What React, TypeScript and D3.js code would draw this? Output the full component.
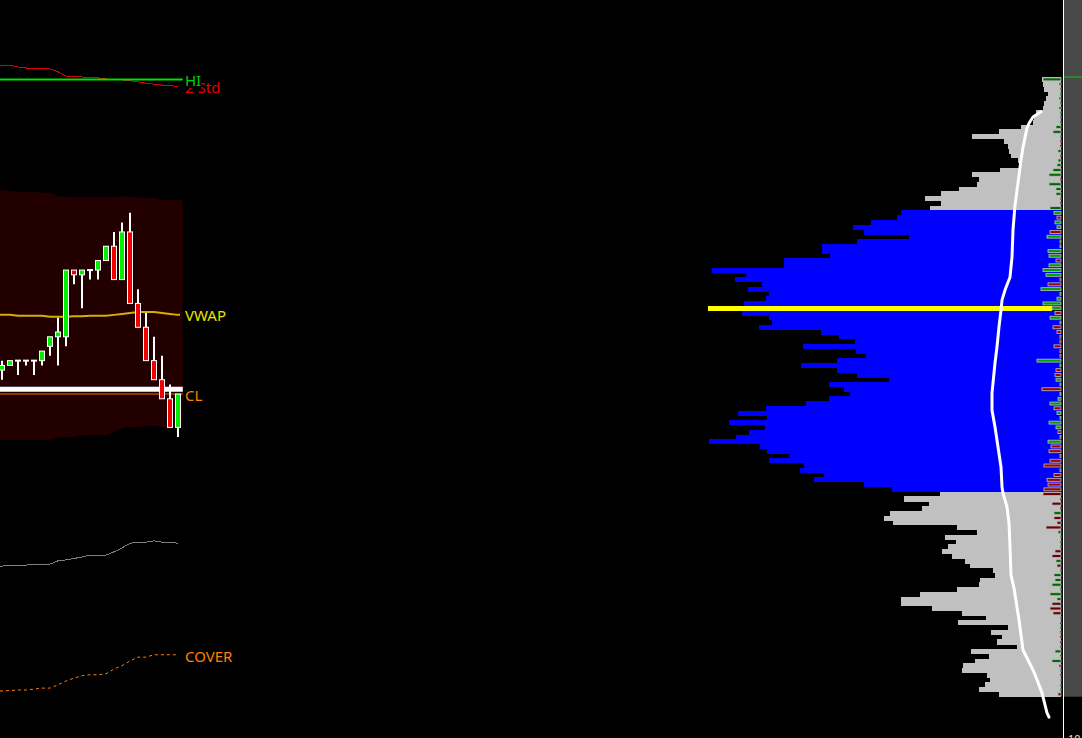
import * as d3 from "d3";

// ---- profile: one row per cent, top row first ----
const topPrice = 11.38;
const tickSize = 0.01;
const vaHigh = 11.1;
const vaLow = 10.52;
const pocPrice = 10.9;

const profileVolume = [
  190, 180, 170, 130, 150, 170, 180, 250, 270, 280, 400, 620, 890, 570, 530, 520, 500, 430, 420, 610,
  890, 820, 840, 1020, 1200, 1360, 1200, 1310,
  1600, 1640, 1900, 2080, 1970, 1520, 2040, 2390, 2390, 2310, 2770, 2770, 3490, 3150, 3260, 2990,
  3130, 2920, 2950, 3170, 3530, 3190, 2920, 2890, 3020, 2400, 2220, 2060, 2580, 2050, 1950, 2240,
  2600, 2240, 2040, 1720, 2320, 2170, 2110, 2320, 2550, 2950, 3230, 2940, 3320, 2960, 3120, 3250,
  3520, 3010, 2940, 2720, 2920, 2570, 2610, 2370, 2470, 1970, 1690,
  1210, 1570, 1320, 1390, 1710, 1770, 1680, 1040, 840, 1160, 1050, 1130, 1190, 1090, 960, 910, 680,
  660, 810, 820, 1040, 1410, 1600, 1600, 1290, 990, 750, 1030, 530, 700, 590, 640, 440, 900, 720,
  860, 980, 990, 740, 710, 760, 820, 620,
];

const profileDelta = [
  180, 20, -10, 10, 20, 10, 20, 10, 10, 10, 50, 80, 10, -10, -10, 30, -10, 30, 40, 80, 120, -10,
  120, 50, 50, 10, -10, 110,
  70, -40, 60, 40, -110, 140, 10, 10, 130, 120, -50, 120, 180, 150, -10, -130, 200, 10, 40, 180,
  90, -60, 110, 10, -80, -40, -10, -10, -70, -10, -10, 240, 10, -50, -60, 50, 10, -190, 10, 30,
  110, -70, 40, 10, 120, 50, -30, 10, 130, -100, -120, -10, -110, -170, 10, -70, -140, -130, -170,
  -180, -10, -90, -10, 70, -70, -40, -150, 30, 10, 10, 10, -60, -90, 50, -40, 10, 70, 60, 90, 10,
  110, 40, -90, -110, -80, 10, -10, 10, -10, -10, -10, 10, 60, 10, 90, -20, 10, -10, 10, 10, 10, -30,
];

// white line drawn over the profile
const curvePrice = [
  11.312, 11.301, 11.288, 11.278, 11.238, 11.211, 11.163, 11.116, 11.064, 11.007, 10.965, 10.938,
  10.917, 10.896, 10.861, 10.819, 10.785, 10.743, 10.722, 10.686, 10.651, 10.609, 10.567, 10.525,
  10.512, 10.483, 10.449, 10.399, 10.34, 10.313, 10.246, 10.183, 10.141, 10.126, 10.093, 10.051, 10.042,
];
const curveVol = [
  200, 280, 320, 340, 380, 400, 430, 460, 480, 490, 510, 560, 590, 600, 620, 640, 660, 680, 690, 690,
  660, 630, 600, 590, 580, 540, 520, 510, 500, 470, 420, 380, 280, 250, 190, 140, 120,
];

// ---- intraday bars ----
const barOpen = [10.77, 10.78, 10.79, 10.79, 10.79, 10.79, 10.82, 10.84, 10.84, 10.98, 10.97, 10.98, 10.98, 11.0, 11.03, 10.96, 11.06, 10.91, 10.86, 10.79, 10.75, 10.71, 10.65];
const barHigh = [10.79, 10.79, 10.79, 10.79, 10.79, 10.81, 10.84, 10.88, 10.98, 10.98, 10.98, 10.98, 11.0, 11.03, 11.06, 11.08, 11.1, 10.94, 10.89, 10.84, 10.8, 10.74, 10.72];
const barLow = [10.75, 10.78, 10.76, 10.78, 10.76, 10.78, 10.8, 10.78, 10.82, 10.95, 10.9, 10.96, 10.96, 11.0, 10.96, 10.96, 10.91, 10.86, 10.79, 10.75, 10.71, 10.65, 10.63];
const barClose = [10.78, 10.79, 10.79, 10.79, 10.79, 10.81, 10.84, 10.85, 10.98, 10.97, 10.98, 10.98, 11.0, 11.03, 10.96, 11.06, 10.91, 10.86, 10.79, 10.75, 10.71, 10.65, 10.72];

const vwap = [10.886, 10.886, 10.884, 10.884, 10.884, 10.884, 10.882, 10.882, 10.882, 10.883, 10.883, 10.884, 10.884, 10.884, 10.886, 10.888, 10.89, 10.892, 10.892, 10.892, 10.89, 10.888, 10.886];
const bandUpper = [11.148, 11.146, 11.144, 11.144, 11.144, 11.142, 11.142, 11.135, 11.133, 11.133, 11.133, 11.133, 11.133, 11.133, 11.133, 11.135, 11.133, 11.133, 11.131, 11.131, 11.127, 11.127, 11.127];
const bandLower = [10.624, 10.624, 10.624, 10.624, 10.624, 10.624, 10.624, 10.628, 10.63, 10.63, 10.634, 10.634, 10.634, 10.634, 10.64, 10.649, 10.651, 10.651, 10.653, 10.653, 10.651, 10.649, 10.649];
const upper2Std = [11.41, 11.41, 11.406, 11.404, 11.402, 11.402, 11.402, 11.396, 11.387, 11.387, 11.385, 11.383, 11.383, 11.381, 11.379, 11.379, 11.377, 11.375, 11.372, 11.37, 11.368, 11.368, 11.364];
const lower2Std = [10.359, 10.36, 10.361, 10.361, 10.363, 10.363, 10.363, 10.37, 10.372, 10.375, 10.378, 10.382, 10.382, 10.382, 10.389, 10.397, 10.407, 10.409, 10.409, 10.412, 10.409, 10.409, 10.407];
const coverLine = [10.097, 10.098, 10.099, 10.099, 10.101, 10.103, 10.103, 10.11, 10.118, 10.124, 10.129, 10.131, 10.131, 10.133, 10.143, 10.15, 10.16, 10.168, 10.168, 10.173, 10.173, 10.173, 10.173];

const hiPrice = 11.38;
const priorLevel = 10.73;
const clPrice = 10.72;
const axisTicks = [10.0];

const W = 1082;
const H = 738;
const FONT = "'Noto Sans', 'Open Sans', sans-serif";

const y = d3.scaleLinear().domain([10.085, 11.385]).range([696.7, 77]);
const xVol = d3.scaleLinear().domain([0, 3530]).range([1061, 708]);
const xBar = d3.scaleLinear().domain([0, 22]).range([2, 178]);

type Pt = { i: number; v: number };
const ext = (vals: number[], endIdx: number): Pt[] => [
  { i: -1, v: vals[0] },
  ...vals.map((v, i) => ({ i, v })),
  { i: endIdx, v: vals[vals.length - 1] },
];

const line = d3.line<Pt>().x(d => xBar(d.i)).y(d => y(d.v));

export default function App() {
  const rowH = y(0) - y(tickSize);
  const rows = profileVolume.map((vol, i) => {
    const price = +(topPrice - i * tickSize).toFixed(2);
    return { price, vol, delta: profileDelta[i] };
  });
  const inVA = (p: number) => p <= vaHigh + 1e-6 && p >= vaLow - 1e-6;

  const bandPts = bandUpper.map((u, i) => ({ i, u, l: bandLower[i] }));
  const bandEnd = { i: 22.6, u: bandUpper[22], l: bandLower[22] };
  const area = d3
    .area<{ i: number; u: number; l: number }>()
    .x(d => xBar(d.i))
    .y0(d => y(d.l))
    .y1(d => y(d.u));

  const curve = d3
    .line<number>()
    .x((_, i) => xVol(curveVol[i]))
    .y(d => y(d));

  const leftEnd = xBar(22.6);

  return (
    <svg width={W} height={H} style={{ position: "fixed", left: 0, top: 0, display: "block", background: "#000" }}>
      <rect x={0} y={0} width={W} height={H} fill="#000" />

      {/* std band */}
      <path d={area([{ i: -1, u: bandUpper[0], l: bandLower[0] }, ...bandPts, bandEnd]) || ""} fill="#220000" />

      {/* 2 std lines */}
      <path d={line(ext(upper2Std, 22)) || ""} fill="none" stroke="#e00000" strokeWidth={1} shapeRendering="crispEdges" />
      <path d={line(ext(lower2Std, 22)) || ""} fill="none" stroke="#808080" strokeWidth={1} shapeRendering="crispEdges" />

      {/* HI */}
      <line x1={0} x2={leftEnd} y1={y(hiPrice)} y2={y(hiPrice)} stroke="#00e000" strokeWidth={2} />

      {/* VWAP */}
      <path d={line(ext(vwap, 22.25)) || ""} fill="none" stroke="#d4b000" strokeWidth={2} />

      {/* cover */}
      <path d={line(ext(coverLine, 22)) || ""} fill="none" stroke="#ff7f00" strokeWidth={1} strokeDasharray="3,3" />

      {/* prior level & CL */}
      <line x1={0} x2={leftEnd} y1={y(priorLevel)} y2={y(priorLevel)} stroke="#fff" strokeWidth={5} />
      <line x1={0} x2={leftEnd} y1={y(clPrice)} y2={y(clPrice)} stroke="#ff6a00" strokeWidth={1} />

      {/* candles */}
      {barOpen.map((o, i) => {
        const c = barClose[i];
        const cx = xBar(i);
        const top = y(Math.max(o, c));
        const bot = y(Math.min(o, c));
        const up = c >= o;
        return (
          <g key={i}>
            <line x1={cx} x2={cx} y1={y(barHigh[i])} y2={y(barLow[i])} stroke="#fff" strokeWidth={2} />
            {o === c ? (
              <line x1={cx - 3} x2={cx + 3} y1={top} y2={top} stroke="#fff" strokeWidth={2} />
            ) : (
              <rect x={cx - 2.5} y={top} width={5} height={Math.max(bot - top, 1)} fill={up ? "#00ee00" : "#f00000"} stroke="#fff" strokeWidth={1} />
            )}
          </g>
        );
      })}

      {/* labels */}
      <g fontFamily={FONT} fontSize={15}>
        <text x={185} y={93} fill="#e00000">2 Std</text>
        <rect x={184} y={71} width={17} height={17} fill="#000" />
        <text x={185} y={86} fill="#00d000">HI</text>
        <text x={185} y={321} fill="#e6e600">VWAP</text>
        <text x={185} y={401} fill="#ff8000">CL</text>
        <text x={185} y={662} fill="#ff8000">COVER</text>
      </g>

      {/* volume profile */}
      {rows.map((r, i) => {
        const top = y(r.price + tickSize / 2);
        const isPoc = Math.abs(r.price - pocPrice) < 1e-6;
        const fill = isPoc ? "#ffff00" : inVA(r.price) ? "#0000ff" : "#c0c0c0";
        return (
          <rect key={"p" + i} x={xVol(r.vol)} y={top} width={xVol(0) - xVol(r.vol) - (isPoc ? 9 : 0)} height={rowH + 0.3} fill={fill} shapeRendering="crispEdges" />
        );
      })}

      {/* delta at price */}
      {rows.map((r, i) => {
        const top = y(r.price + tickSize / 2);
        const a = Math.abs(r.delta);
        const va = inVA(r.price);
        const fill = r.delta > 0 ? (va ? "#00a000" : "#006a00") : va ? "#a00000" : "#6a0000";
        return (
          <rect key={"d" + i} x={xVol(a)} y={top + 0.9} width={xVol(0) - xVol(a)} height={rowH - 1.8} fill={fill} stroke="#bdbdbd" strokeWidth={0.8} />
        );
      })}

      {/* profile curve */}
      <path d={curve(curvePrice) || ""} fill="none" stroke="#fff" strokeWidth={3} strokeLinejoin="round" strokeLinecap="round" />

      {/* price axis */}
      <rect x={1064} y={0} width={W - 1064} height={y(10.085)} fill="#484848" />
      <line x1={1063.5} x2={1063.5} y1={0} y2={H} stroke="#fff" strokeWidth={1} />
      <line x1={1064} x2={W} y1={y(11.385)} y2={y(11.385)} stroke="#00d000" strokeWidth={1} />
      {axisTicks.map(t => (
        <text key={t} x={1068} y={y(t)} dy="0.5em" fill="#e0e0e0" fontFamily={FONT} fontSize={11}>
          {t.toFixed(2)}
        </text>
      ))}
    </svg>
  );
}
